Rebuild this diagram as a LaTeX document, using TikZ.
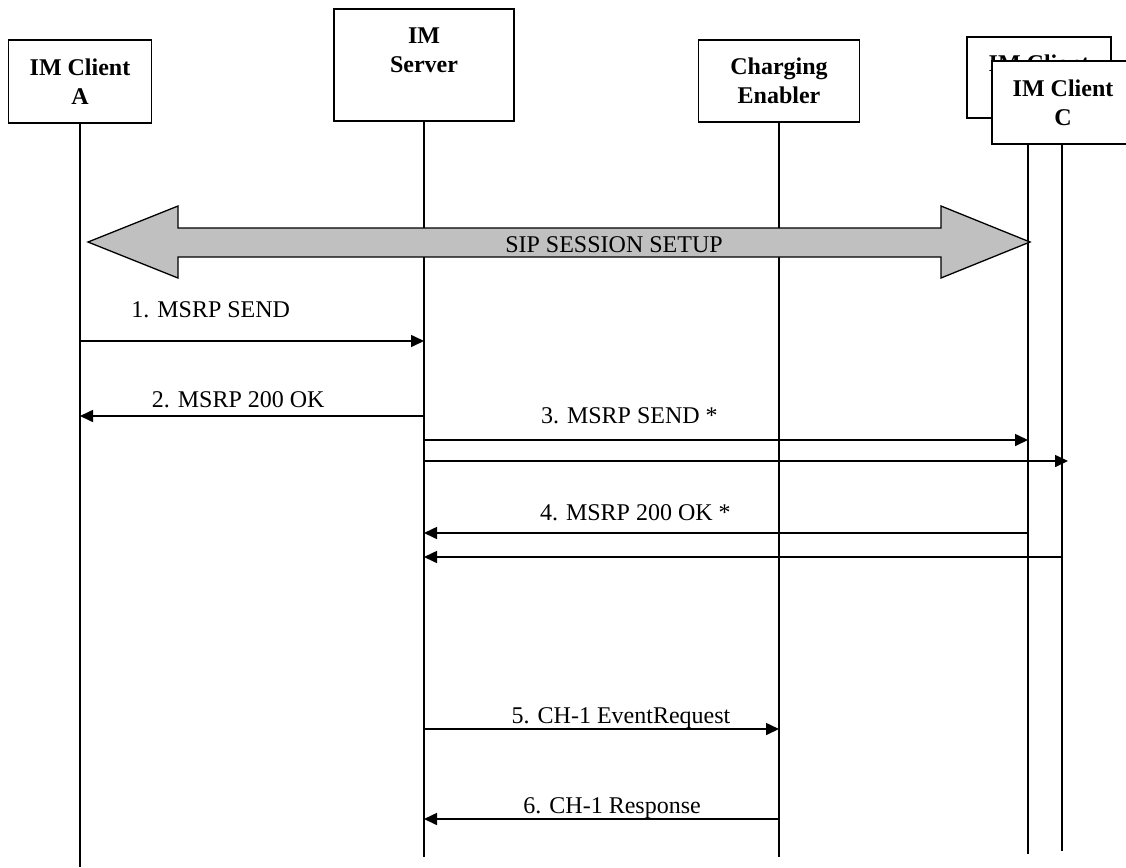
\documentclass[tikz,border=0pt]{standalone}
\usepackage{fontspec}
\setmainfont{Liberation Serif}
\usetikzlibrary{arrows.meta}
\definecolor{sipgray}{RGB}{192,192,192}
\begin{document}
\begin{tikzpicture}[x=1pt,y=-1pt,
  ent/.style={draw, line width=1.3pt, fill=white, align=center, inner sep=0pt,
    font=\fontsize{24}{29}\selectfont\bfseries},
  life/.style={line width=1.3pt},
  msg/.style={line width=1.6pt, -{Triangle[length=13pt,width=12pt]}},
  lbl/.style={font=\fontsize{24}{29}\selectfont, anchor=base},
]
\useasboundingbox (0,0) rectangle (1126,867);
\clip (0,0) rectangle (1126,867);

% entities
\node[ent, minimum width=143pt, minimum height=83pt] (cA) at (80,81.5) {IM Client\\A};
\node[ent, minimum width=180pt, minimum height=112pt, text depth=29pt] (srv) at (424,65) {IM\\Server};
\node[ent, minimum width=161pt, minimum height=82pt] (chg) at (779,81) {Charging\\Enabler};
\node[ent, minimum width=144pt, minimum height=81pt, text depth=29pt] (cB) at (1039,77.5) {IM Client};

% lifeline ends
\coordinate (eA) at (80,867);
\coordinate (eS) at (424,857);
\coordinate (eE) at (779,857);
\coordinate (eB) at (1028,854);
\coordinate (eC) at (1062,851);

\draw[life] (cB.south -| eB) -- (eB);
\node[ent, minimum width=142pt, minimum height=83pt] (cC) at (1063,102.5) {IM Client\\C};
\draw[life] (cC.south -| eC) -- (eC);
\draw[life] (cA.south) -- (eA);
\draw[life] (srv.south) -- (eS);
\draw[life] (chg.south) -- (eE);

% SIP session setup double arrow
\coordinate (sipL) at (88,242);
\coordinate (sipR) at (1030,242);
\draw[line width=1.3pt, fill=sipgray] (sipL) -- (178,206) -- (178,228) -- (941,228) -- (941,206)
  -- (sipR) -- (941,278) -- (941,257) -- (178,257) -- (178,278) -- cycle;
\node[lbl] (sip) at (614,252) {SIP SESSION SETUP};

% messages
\draw[msg] (cA.south |- 0,341) -- (srv.south |- 0,341)
  node[lbl, pos=.38, yshift=24pt] {1. MSRP SEND};
\draw[msg] (srv.south |- 0,416) -- (cA.south |- 0,416)
  node[lbl, pos=.54, yshift=9pt] {2. MSRP 200 OK};
\draw[msg] (srv.south |- 0,440) -- (eB |- 0,440)
  node[lbl, pos=.34, yshift=17pt] {3. MSRP SEND *};
\coordinate (c3) at (1068,461);
\draw[msg] (srv.south |- 0,461) -- (c3);
\draw[msg] (eB |- 0,533) -- (srv.south |- 0,533)
  node[lbl, pos=.65, yshift=13pt] {4. MSRP 200 OK *};
\draw[msg] (eC |- 0,557) -- (srv.south |- 0,557);
\draw[msg] (srv.south |- 0,729) -- (chg.south |- 0,729)
  node[lbl, pos=.555, yshift=6pt] {5. CH-1 EventRequest};
\draw[msg] (chg.south |- 0,819) -- (srv.south |- 0,819)
  node[lbl, pos=.47, yshift=6pt] {6. CH-1 Response};
\end{tikzpicture}
\end{document}
